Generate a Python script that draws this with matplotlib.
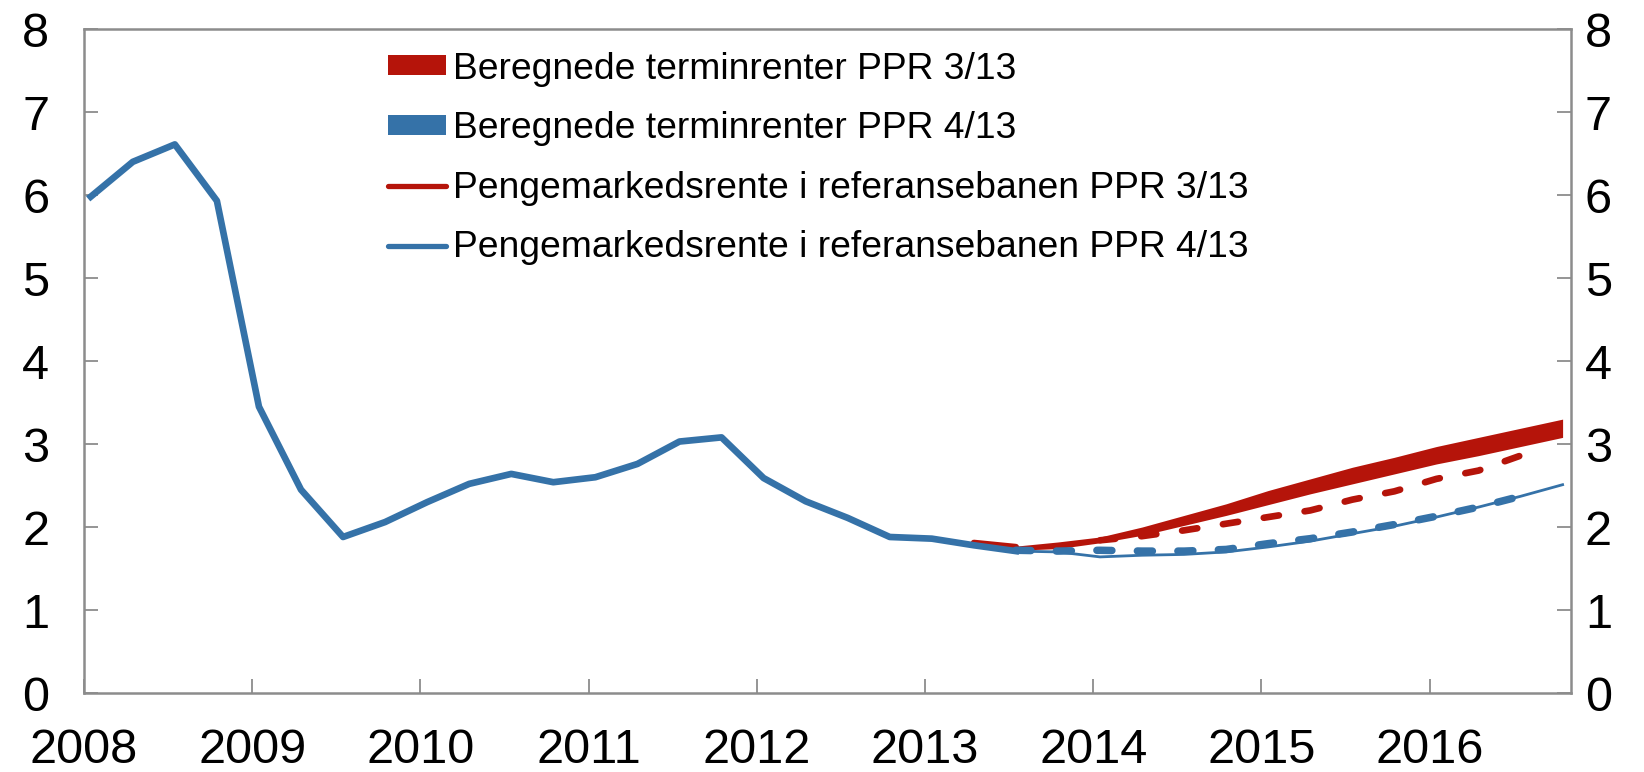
import matplotlib
matplotlib.use("Agg")
import matplotlib.pyplot as plt
import matplotlib.transforms as mtransforms
from matplotlib.patches import Patch
from matplotlib.lines import Line2D
import numpy as np

plt.rcParams['font.family'] = ['Liberation Sans', 'DejaVu Sans']

# quarterly positions: year + quarter offset
def qx(start_year, start_q, n):
    return np.array([start_year + (start_q - 1 + i) * 0.25 + 0.04 for i in range(n)])

# history, 2008Q1 - 2013Q3
hist = [5.98, 6.40, 6.61, 5.93,
        3.45, 2.45, 1.88, 2.06,
        2.30, 2.52, 2.64, 2.54,
        2.60, 2.76, 3.03, 3.08,
        2.59, 2.31, 2.11, 1.88,
        1.86, 1.78, 1.71]

# PPR 3/13 forward rate band, 2013Q3 - 2016Q4
band313_hi = [1.77, 1.82, 1.88, 2.00, 2.14, 2.28, 2.44, 2.58, 2.72, 2.84, 2.97, 3.08, 3.19, 3.30]
band313_lo = [1.72, 1.74, 1.81, 1.90, 2.02, 2.14, 2.27, 2.40, 2.52, 2.64, 2.76, 2.86, 2.97, 3.08]

# PPR 3/13 reference path (dashed), 2014Q1 - 2016Q3
ref313 = [1.84, 1.89, 1.96, 2.04, 2.12, 2.20, 2.33, 2.43, 2.58, 2.68, 2.86]
# small visible part of PPR 3/13 path, 2013Q2 - 2013Q3
ref313_start = [1.81, 1.76]

# PPR 4/13 forward rates (thick dashed), 2013Q3 - 2016Q3
fwd413 = [1.72, 1.71, 1.72, 1.71, 1.71, 1.73, 1.80, 1.86, 1.94, 2.03, 2.13, 2.24, 2.37]

# PPR 4/13 reference path (thin), 2013Q3 - 2016Q4
ref413 = [1.71, 1.70, 1.64, 1.66, 1.67, 1.70, 1.76, 1.83, 1.92, 2.01, 2.12, 2.24, 2.37, 2.51]

labels = ["Beregnede terminrenter PPR 3/13",
          "Beregnede terminrenter PPR 4/13",
          "Pengemarkedsrente i referansebanen PPR 3/13",
          "Pengemarkedsrente i referansebanen PPR 4/13"]
years = list(range(2008, 2017))

red = '#B5140A'
blue = '#3572A8'
grey = '#8C8C8C'

fig = plt.figure(figsize=(16.44, 7.72), dpi=100)
ax = fig.add_axes([0.0511, 0.1023, 0.9045, 0.8601])

ax.fill_between(qx(2013, 3, len(band313_hi)), band313_lo, band313_hi, color=red, lw=0, zorder=2)
ax.plot(qx(2013, 2, len(ref313_start)), ref313_start, color=red, lw=4.5, zorder=2, solid_capstyle='round')
ax.plot(qx(2014, 1, len(ref313)), ref313, color=red, lw=4.8, dashes=(2.3, 3.9), zorder=3, dash_capstyle='round')
ax.plot(qx(2013, 3, len(ref413)), ref413, color=blue, lw=2.0, zorder=3)
ax.plot(qx(2013, 3, len(fwd413)), fwd413, color=blue, lw=5.4, dashes=(2.0, 3.4), zorder=4, dash_capstyle='round')
ax.plot(qx(2008, 1, len(hist)), hist, color=blue, lw=4.8, zorder=5)

ax.set_xlim(2008.0, 2016.84)
ax.set_ylim(0, 8)
ax.set_xticks(years)
ax.set_xticklabels([str(y) for y in years])
ax.set_yticks(range(0, 9))

for s in ax.spines.values():
    s.set_color(grey)
    s.set_linewidth(1.8)

ax.tick_params(axis='x', direction='in', length=10, width=1.3, color=grey,
               labelsize=35, pad=25)
ax.tick_params(axis='y', direction='in', length=10, width=1.3, color=grey,
               labelsize=35, pad=25, left=True, right=True, labelleft=True, labelright=True)
# right labels sit closer to the spine
offset = mtransforms.ScaledTranslation(-15 / 72, 0, fig.dpi_scale_trans)
for t in ax.yaxis.get_major_ticks():
    t.label2.set_transform(t.label2.get_transform() + offset)

handles = [Patch(facecolor=red, edgecolor='none'),
           Patch(facecolor=blue, edgecolor='none'),
           Line2D([], [], color=red, lw=3.8, solid_capstyle='round'),
           Line2D([], [], color=blue, lw=3.8, solid_capstyle='round')]
fig.legend(handles, labels, loc='upper left', bbox_to_anchor=(0.236, 0.933),
           frameon=False, fontsize=26.8, handlelength=1.55, handleheight=0.45,
           handletextpad=0.2, labelspacing=0.66, borderpad=0, borderaxespad=0)

fig.savefig('out.png', dpi=100)
